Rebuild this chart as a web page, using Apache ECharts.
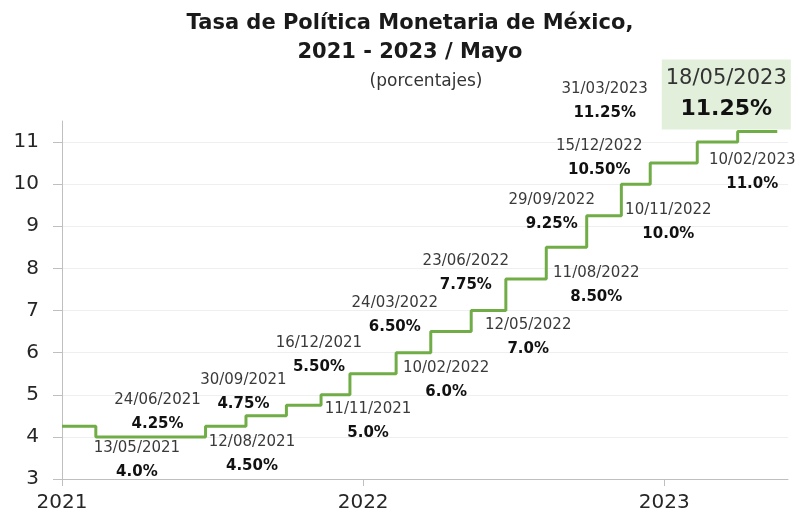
<!DOCTYPE html>
<html><head><meta charset="utf-8">
<script src="https://cdn.jsdelivr.net/npm/echarts@6/dist/echarts.min.js"></script>
<style>html,body{margin:0;padding:0;background:#fff}#c{width:803px;height:521px}</style>
</head><body><div id="c"></div>
<script>
// ---- data ----
const stepDates = ['2021-01-01','2021-02-11','2021-06-24','2021-08-12','2021-09-30','2021-11-11','2021-12-16','2022-02-10','2022-03-24','2022-05-12','2022-06-23','2022-08-11','2022-09-29','2022-11-10','2022-12-15','2023-02-10','2023-03-31','2023-05-18'];
const stepRates = [4.25,4.0,4.25,4.5,4.75,5.0,5.5,6.0,6.5,7.0,7.75,8.5,9.25,10.0,10.5,11.0,11.25,11.25];
const noteDates = ['13/05/2021','24/06/2021','12/08/2021','30/09/2021','11/11/2021','16/12/2021','10/02/2022','24/03/2022','12/05/2022','23/06/2022','11/08/2022','29/09/2022','10/11/2022','15/12/2022','10/02/2023','31/03/2023'];
const noteRates = [4.0,4.25,4.5,4.75,5.0,5.5,6.0,6.5,7.0,7.75,8.5,9.25,10.0,10.5,11.0,11.25];
const noteTexts = ['4.0%','4.25%','4.50%','4.75%','5.0%','5.50%','6.0%','6.50%','7.0%','7.75%','8.50%','9.25%','10.0%','10.50%','11.0%','11.25%'];
const lastDate = '18/05/2023';
const lastRate = 11.25;
const lastText = '11.25%';
const yTicks = [3,4,5,6,7,8,9,10,11];
const xYears = ['2021','2022','2023'];
const xStart = '2021-01-01';
const xEnd = '2023-05-31';

// ---- layout (label offsets in px from their anchor point) ----
const noteOffsets = [[-34,23],[-48,-14],[6,38],[-43,-13],[47,26],[-31,-19],[50,27],[-36,-16],[57,27],[-40,-6],[50,38],[-35,-4],[47,38],[-51,-5],[55,30],[-133,-30]];
const lastOffset = [-51,-37];

const FONT = 'DejaVu Sans';
const day0 = Date.UTC(2021,0,1);
function isoDay(s){const p=s.split('-').map(Number);return (Date.UTC(p[0],p[1]-1,p[2])-day0)/86400000;}
function dmyDay(s){const p=s.split('/').map(Number);return (Date.UTC(p[2],p[1]-1,p[0])-day0)/86400000;}
const yearPos = xYears.map(y=>isoDay(y+'-01-01'));

const stepData = stepDates.map((d,i)=>[isoDay(d), stepRates[i]]);
const noteData = noteDates.map((d,i)=>({
  value:[dmyDay(d), noteRates[i]],
  label:{formatter:'{d|'+d+'}\n{v|'+noteTexts[i]+'}', offset:noteOffsets[i]}
}));
noteData.push({
  value:[dmyDay(lastDate), lastRate],
  label:{formatter:'{bd|'+lastDate+'}\n{bv|'+lastText+'}', offset:lastOffset,
    backgroundColor:'#e2efda', padding:[4,4]}
});

const noBorder = {textBorderWidth:0, textBorderColor:'transparent', textShadowBlur:0};
const chart = echarts.init(document.getElementById('c'), null, {renderer:'canvas'});
chart.setOption({
  animation:false,
  backgroundColor:'#ffffff',
  textStyle:{fontFamily:FONT},
  title:[
    {text:'Tasa de Política Monetaria de México,\n2021 - 2023 / Mayo', left:405, textAlign:'center', top:4,
     textStyle:{fontFamily:FONT, fontSize:21, fontWeight:'bold', color:'#1a1a1a', lineHeight:29}},
    {text:'(porcentajes)', left:421, textAlign:'center', top:68,
     textStyle:{fontFamily:FONT, fontSize:17, fontWeight:'normal', color:'#333'}}
  ],
  grid:{left:62, right:15, top:121, bottom:42},
  xAxis:{
    type:'value', min:isoDay(xStart), max:isoDay(xEnd),
    axisLine:{show:true, lineStyle:{color:'#bfbfbf', width:1}},
    axisTick:{show:true, customValues:yearPos, length:7, lineStyle:{color:'#bfbfbf'}},
    axisLabel:{customValues:yearPos, formatter:v=>xYears[yearPos.indexOf(v)]||'', fontSize:20, color:'#262626', margin:14, fontFamily:FONT},
    splitLine:{show:false}
  },
  yAxis:{
    type:'value', min:3, max:11.5,
    axisLine:{show:true, lineStyle:{color:'#bfbfbf', width:1}},
    axisTick:{show:true, customValues:yTicks, length:9, lineStyle:{color:'#bfbfbf'}},
    axisLabel:{customValues:yTicks, fontSize:20, color:'#262626', margin:23, fontFamily:FONT},
    splitLine:{show:false}
  },
  series:[
    {type:'line', data:[[0,3]], showSymbol:false, lineStyle:{opacity:0}, z:1, zlevel:0, silent:true,
     markLine:{silent:true, z:0, symbol:'none', label:{show:false}, animation:false,
       lineStyle:{color:'#efefef', width:1, type:'solid'},
       data:yTicks.filter(v=>v>yTicks[0]).map(v=>({yAxis:v}))}},
    {type:'line', step:'end', data:stepData, showSymbol:false, z:10,
     lineStyle:{color:'#70ad47', width:3}},
    {type:'scatter', data:noteData, symbolSize:0, z:11, silent:true,
     itemStyle:{opacity:1},
     label:Object.assign({show:true, opacity:1, position:'inside', align:'center', verticalAlign:'middle', color:'#1a1a1a',
       rich:{
         d:Object.assign({fontFamily:FONT, fontSize:15, color:'#3a3a3a', lineHeight:24, align:'center'}, noBorder),
         v:Object.assign({fontFamily:FONT, fontSize:15, fontWeight:'bold', color:'#111', lineHeight:24, align:'center'}, noBorder),
         bd:Object.assign({fontFamily:FONT, fontSize:21, color:'#333', lineHeight:30, align:'center'}, noBorder),
         bv:Object.assign({fontFamily:FONT, fontSize:22, fontWeight:'bold', color:'#111', lineHeight:32, align:'center'}, noBorder)
       }}, noBorder)}
  ]
});
</script>
</body></html>
